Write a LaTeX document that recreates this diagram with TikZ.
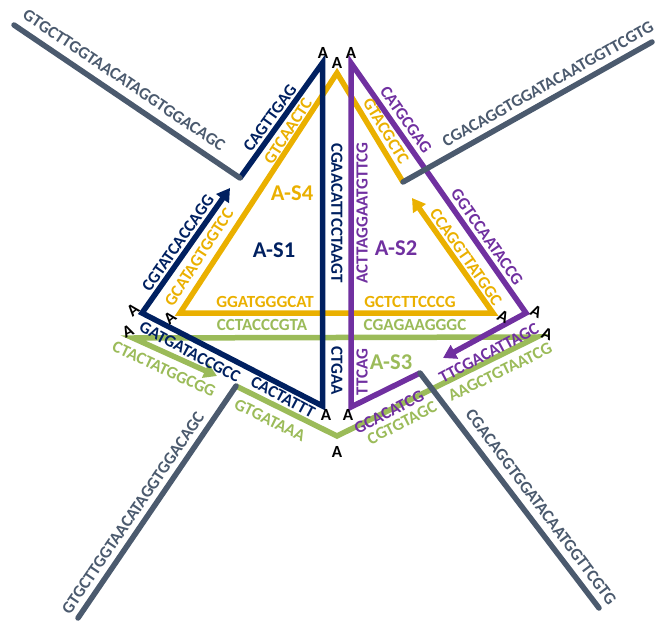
\documentclass[tikz,border=0pt]{standalone}
\usepackage{fontspec}
\setmainfont{Carlito}
\usetikzlibrary{arrows.meta}
\definecolor{cnavy}{HTML}{002060}
\definecolor{cyel}{HTML}{EAB000}
\definecolor{cpur}{HTML}{7030A0}
\definecolor{cgrn}{HTML}{9BBB59}
\definecolor{cgray}{HTML}{4B5A6E}
\begin{document}
\begin{tikzpicture}[x=1pt,y=-1pt,
  strand/.style={line width=5.5pt, line join=miter, line cap=butt},
  linker/.style={line width=5.5pt, draw=cgray, line cap=round},
  seq/.style={font=\fontsize{17}{19}\selectfont\bfseries, inner sep=0pt},
  lab/.style={font=\fontsize{22.5}{24}\selectfont\bfseries, inner sep=0pt},
  ann/.style={font=\fontsize{17}{18}\selectfont\bfseries, inner sep=0pt, text=black},
  tipped/.style={-{Triangle[length=13pt,width=15pt]}}
]
\useasboundingbox (0,0) rectangle (656,623);
% coordinates
\coordinate (nS) at (240,178);
\coordinate (nApex) at (322.5,63);
\coordinate (nBot) at (322.5,406);
\coordinate (nLeft) at (142,313);
\coordinate (nTip) at (230,188);
\coordinate (pS) at (420,373);
\coordinate (pBot) at (351,407);
\coordinate (pApex) at (351,63);
\coordinate (pRight) at (526,313);
\coordinate (pTip) at (443,358);
\coordinate (yS) at (403,182);
\coordinate (yApex) at (337,73);
\coordinate (yLeft) at (180,313);
\coordinate (yRight) at (493,313);
\coordinate (yTip) at (412,198);
\coordinate (gS) at (236,386);
\coordinate (gBot) at (337,436);
\coordinate (gRight) at (537,337);
\coordinate (gLeft) at (133,338);
\coordinate (gTip) at (217,376);
\coordinate (ul) at (14,25);
\coordinate (ur) at (652,42);
\coordinate (ll) at (78,618);
\coordinate (lr) at (599,608);
% strands
\draw[strand, cgrn, tipped] (gS) -- (gBot) -- (gRight) -- (gLeft) -- (gTip);
\draw[strand, cyel, tipped] (yS) -- (yApex) -- (yLeft) -- (yRight) -- (yTip);
\draw[strand, cnavy, tipped] (nS) -- (nApex) -- (nBot) -- (nLeft) -- (nTip);
\draw[strand, cpur, tipped] (pS) -- (pBot) -- (pApex) -- (pRight) -- (pTip);
% linkers
\draw[linker] (ul) -- (nS);
\draw[linker] (ur) -- (yS);
\draw[linker] (ll) -- (gS);
\draw[linker] (lr) -- (pS);
% linker texts
\node[seq, text=cgray, rotate=-34] (t1) at (124,80) {GTGCTTGGTAACATAGGTGGACAGC};
\node[seq, text=cgray, rotate=29.3] (t2) at (548,84) {CGACAGGTGGATACAATGGTTCGTG};
\node[seq, text=cgray, rotate=55.7] (t3) at (133,513) {GTGCTTGGTAACATAGGTGGACAGC};
\node[seq, text=cgray, rotate=-53.1] (t4) at (541,507) {CGACAGGTGGATACAATGGTTCGTG};
% strand texts
\node[seq, text=cnavy, rotate=54] (t5) at (270,118) {CAGTTGAG};
\node[seq, text=cyel, rotate=57] (t6) at (288,131) {GTCAACTC};
\node[seq, text=cnavy, rotate=55] (t7) at (178,243) {CGTATCACCAGG};
\node[seq, text=cyel, rotate=57] (t8) at (199,257) {GCATAGTGGTCC};
\node[seq, text=cnavy, rotate=-90] (t9) at (337,213) {CGAACATTCCTAAGT};
\node[seq, text=cpur, rotate=90] (t10) at (362,213) {ACTTAGGAATGTTCG};
\node[seq, text=cpur, rotate=-55] (t11) at (406,120) {CATGCGAG};
\node[seq, text=cyel, rotate=-59] (t12) at (386,131) {GTACGCTC};
\node[seq, text=cpur, rotate=-55] (t13) at (487,237) {GGTCCAATACCG};
\node[seq, text=cyel, rotate=-55] (t14) at (466,257) {CCAGGTTATGGC};
\node[seq, text=cyel] (t15) at (265,302) {GGATGGGCAT};
\node[seq, text=cyel] (t16) at (410,302) {GCTCTTCCCG};
\node[seq, text=cgrn] (t17) at (262,325) {CCTACCCGTA};
\node[seq, text=cgrn] (t18) at (415,325) {CGAGAAGGGC};
\node[seq, text=cnavy, rotate=-28] (t19) at (190,352) {GATGATACCGCC};
\node[seq, text=cnavy, rotate=-28] (t20) at (283,397) {CACTATTT};
\node[seq, text=cgrn, rotate=-25] (t21) at (164,369) {CTACTATGGCGG};
\node[seq, text=cgrn, rotate=-26] (t22) at (270,420) {GTGATAAA};
\node[seq, text=cnavy, rotate=-90] (t23) at (337,371) {CTGAA};
\node[seq, text=cpur, rotate=90] (t24) at (362,372) {TTCAG};
\node[seq, text=cpur, rotate=27] (t25) at (389,412) {GCACATCG};
\node[seq, text=cgrn, rotate=27] (t26) at (402,423) {CGTGTAGC};
\node[seq, text=cgrn, rotate=26] (t27) at (500,372) {AAGCTGTAATCG};
\node[seq, text=cpur, rotate=28] (t28) at (489,353) {TTCGACATTAGC};
% labels
\node[lab, text=cyel] (s4) at (292,193) {A-S4};
\node[lab, text=cnavy] (s1) at (274,250) {A-S1};
\node[lab, text=cpur] (s2) at (396,248) {A-S2};
\node[lab, text=cgrn] (s3) at (391,362) {A-S3};
% A annotations
\node[ann] (a1) at (323,53) {A};
\node[ann] (a2) at (337,63) {A};
\node[ann] (a3) at (351,53) {A};
\node[ann, rotate=40] (a4) at (133,310) {A};
\node[ann, rotate=40] (a5) at (170,318) {A};
\node[ann, rotate=25] (a6) at (128,331) {A};
\node[ann] (a7) at (326,415) {A};
\node[ann] (a8) at (348,415) {A};
\node[ann] (a9) at (337,452) {A};
\node[ann, rotate=-25] (a10) at (503,317) {A};
\node[ann, rotate=-25] (a11) at (536,312) {A};
\node[ann, rotate=-20] (a12) at (547,334) {A};
\end{tikzpicture}
\end{document}
